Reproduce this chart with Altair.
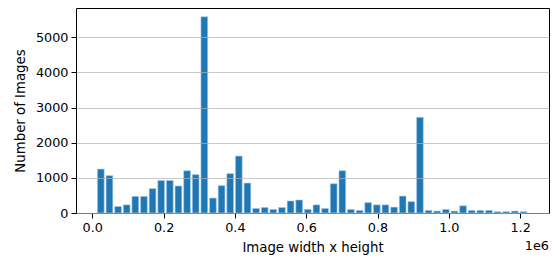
import altair as alt
import numpy as np
import pandas as pd

# Histogram of image areas (width x height), 50 bins
counts = [1250, 1064, 185, 231, 472, 472, 694, 925, 925, 769,
          1203, 1092, 5583, 425, 778, 1120, 1620, 852, 130, 157,
          102, 157, 342, 370, 102, 231, 130, 833, 1203, 102,
          74, 296, 231, 231, 167, 481, 324, 2722, 74, 55,
          102, 55, 204, 74, 74, 74, 37, 37, 55, 37]
bin_lo = 11800
bin_hi = 1221400
x_ticks = [0, 200000, 400000, 600000, 800000, 1000000, 1200000]
y_ticks = [0, 1000, 2000, 3000, 4000, 5000]

edges = np.linspace(bin_lo, bin_hi, len(counts) + 1)
w = edges[1] - edges[0]
rw = 0.78
df = pd.DataFrame({
    "start": edges[:-1] + (1 - rw) / 2 * w,
    "end": edges[1:] - (1 - rw) / 2 * w,
    "count": counts,
})

FONT = "DejaVu Sans"

bars = alt.Chart(df).mark_bar(color="#1f77b4", stroke="#a9c9e3", strokeWidth=0.6).encode(
    x=alt.X("start:Q",
            scale=alt.Scale(domain=[-45700, 1281000], nice=False, zero=False),
            axis=alt.Axis(values=x_ticks, labelExpr="format(datum.value/1e6, '.1f')",
                          title="Image width x height", grid=False,
                          tickColor="black", tickSize=5, labelPadding=3,
                          titlePadding=7)),
    x2="end:Q",
    y=alt.Y("count:Q",
            scale=alt.Scale(domain=[0, 5833], nice=False),
            axis=alt.Axis(values=y_ticks, format="d", title="Number of Images", grid=True,
                          gridColor="#b0b0b0", gridOpacity=0.7, gridWidth=1,
                          tickColor="black", tickSize=5, labelPadding=3,
                          titlePadding=8, zindex=1)),
    y2=alt.datum(0),
)

offset = alt.Chart(pd.DataFrame({"t": ["1e6"]})).mark_text(
    align="right", baseline="middle", font=FONT, fontSize=12.8, color="black"
).encode(x=alt.value(473), y=alt.value(238), text="t:N")

chart = (bars + offset).properties(
    width=473, height=205,
    autosize=alt.AutoSizeParams(type="none"),
    padding={"left": 68, "top": 0, "right": 1, "bottom": 46},
).configure_view(stroke="black", strokeWidth=1).configure_axis(
    domain=False, labelFont=FONT, titleFont=FONT, labelFontSize=12.8,
    titleFontSize=13.3, titleFontWeight="normal", labelColor="black",
    titleColor="black",
)

chart.save("out.html", embed_options={"renderer": "svg", "actions": False})
